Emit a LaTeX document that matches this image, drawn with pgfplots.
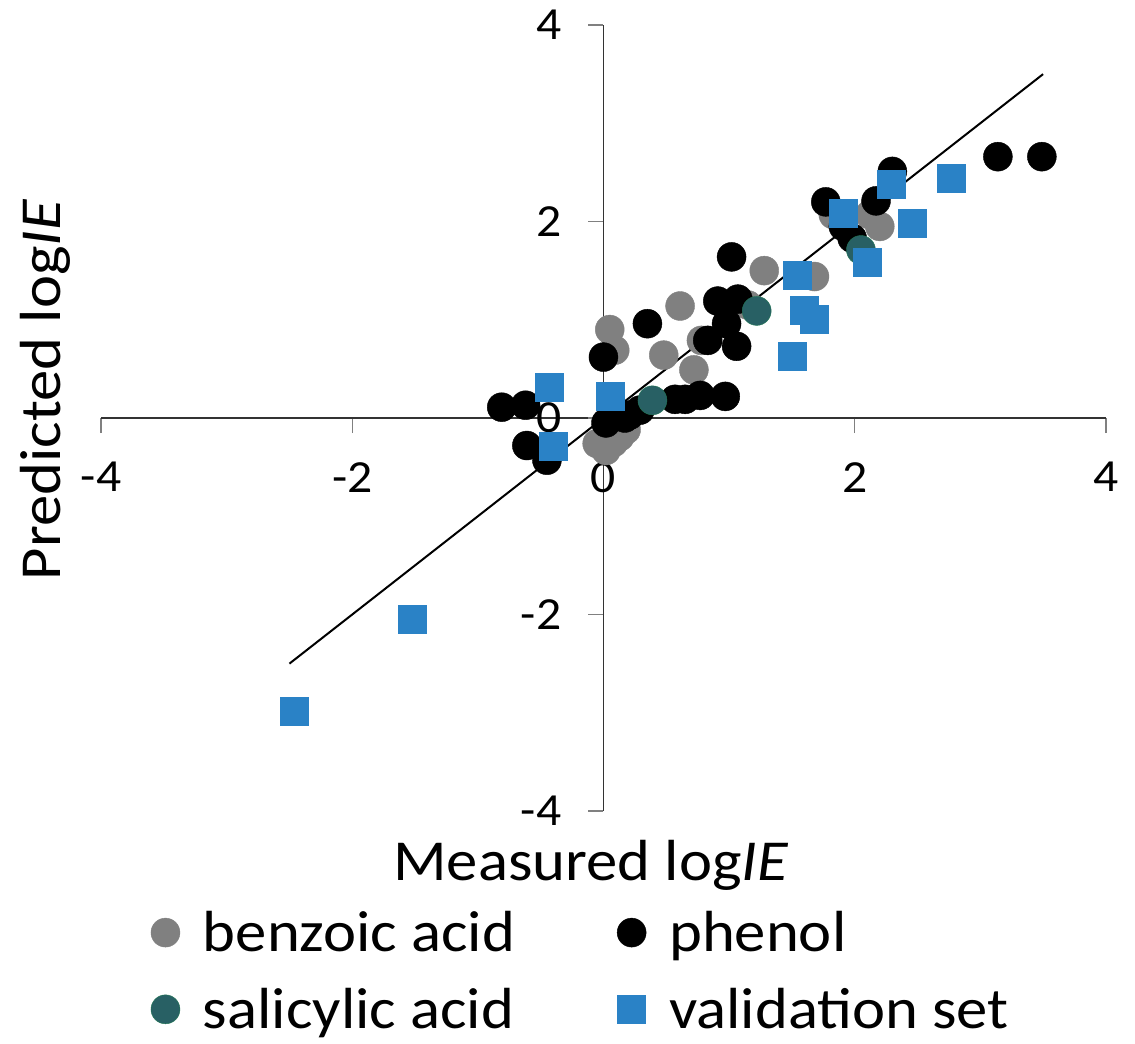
\documentclass[border=0pt]{standalone}
\usepackage{pgfplots}
\pgfplotsset{compat=1.18}
\usepackage{pgfplotstable}
\usepackage{fontspec}
\setmainfont{Carlito}[FakeStretch=1.08]
\definecolor{cgray}{HTML}{808080}
\definecolor{cteal}{HTML}{286064}
\definecolor{cblue}{HTML}{2A82C6}
\pgfplotstableread{
x y
0.05 0.90
0.09 0.69
0.61 1.14
0.48 0.64
0.72 0.49
0.78 0.79
1.15 1.15
1.28 1.50
1.68 1.44
1.83 2.07
2.12 2.07
2.20 1.95
-0.05 -0.26
0.02 -0.33
0.13 -0.19
0.18 -0.12
0.08 -0.25
}\benzoic
\pgfplotstableread{
x y
-0.81 0.11
-0.62 0.13
-0.61 -0.28
-0.45 -0.43
0.00 0.62
0.35 0.96
0.02 -0.05
0.17 0.00
0.21 0.03
0.29 0.08
0.57 0.19
0.65 0.19
0.77 0.23
0.97 0.22
0.83 0.79
1.06 0.73
0.98 0.96
0.91 1.19
1.07 1.21
1.02 1.64
1.77 2.20
1.91 1.95
1.98 1.83
2.17 2.21
2.30 2.51
3.14 2.66
3.49 2.66
}\phenol
\pgfplotstableread{
x y
0.39 0.18
1.22 1.09
2.05 1.71
}\salicylic
\pgfplotstableread{
x y
-2.46 -2.98
-1.52 -2.05
-0.43 0.31
-0.40 -0.29
0.05 0.22
1.50 0.63
1.54 1.45
1.60 1.10
1.68 1.01
1.91 2.08
2.10 1.59
2.29 2.38
2.46 1.98
2.77 2.44
}\validation
\begin{document}
\begin{tikzpicture}
\useasboundingbox (0,0) rectangle (1135bp,-1044bp);
\begin{axis}[
  at={(101bp,-811bp)}, anchor=south west,
  scale only axis, width=1005bp, height=786bp,
  xmin=-4, xmax=4, ymin=-4, ymax=4,
  clip=false,
  axis lines=middle,
  axis line style={-, black!80, line width=1.3bp},
  hide obscured x ticks=false, hide obscured y ticks=false,
  xtick={-4,-2,2,4}, ytick={-4,-2,2,4},
  xticklabels={-4,-2,2,4}, yticklabels={-4,-2,2,4},
  extra x ticks={0}, extra x tick labels={0},
  extra y ticks={0}, extra y tick labels={0},
  tick align=outside, major tick length=15bp,
  tick style={gray, line width=1.3bp},
  ticklabel style={font=\fontsize{46bp}{52bp}\selectfont, inner sep=0pt},
  xticklabel style={anchor=north, yshift=-29bp},
  yticklabel style={anchor=east, xshift=-27bp},
  extra x tick style={tick style={gray, line width=1.3bp}},
  extra y tick style={tick style={gray, line width=1.3bp}},
  xlabel={Measured log\textit{IE}},
  ylabel={Predicted log\textit{IE}},
  label style={font=\fontsize{58bp}{68bp}\selectfont},
  xlabel style={at={(axis description cs:0.4876,-0.0878)}, anchor=base},
  ylabel style={at={(axis description cs:-0.0557,0.536)}, rotate=90, anchor=center},
  legend columns=2,
  legend cell align=left,
  legend style={at={(axis description cs:0.4776,-0.2035)}, anchor=center,
    draw=none, fill=none, font=\fontsize{58bp}{68bp}\selectfont,
    row sep=31bp,
    /tikz/every odd column/.append style={column sep=21bp},
    /tikz/every even column/.append style={column sep=100bp}},
]
\addplot[black, line width=2bp, forget plot] coordinates {(-2.5,-2.5) (3.5,3.5)};
\addplot[only marks, mark=*, mark size=14.5bp, mark options={draw=cgray, fill=cgray}] table {\benzoic};
\addlegendentry{benzoic acid}
\addplot[only marks, mark=*, mark size=14.5bp, mark options={draw=black, fill=black}] table {\phenol};
\addlegendentry{phenol}
\addplot[only marks, mark=*, mark size=14.5bp, mark options={draw=cteal!85!green, fill=cteal}] table {\salicylic};
\addlegendentry{salicylic acid}
\addplot[only marks, mark=square*, mark size=14bp, mark options={draw=cblue, fill=cblue}] table {\validation};
\addlegendentry{validation set}
\end{axis}
\end{tikzpicture}
\end{document}
